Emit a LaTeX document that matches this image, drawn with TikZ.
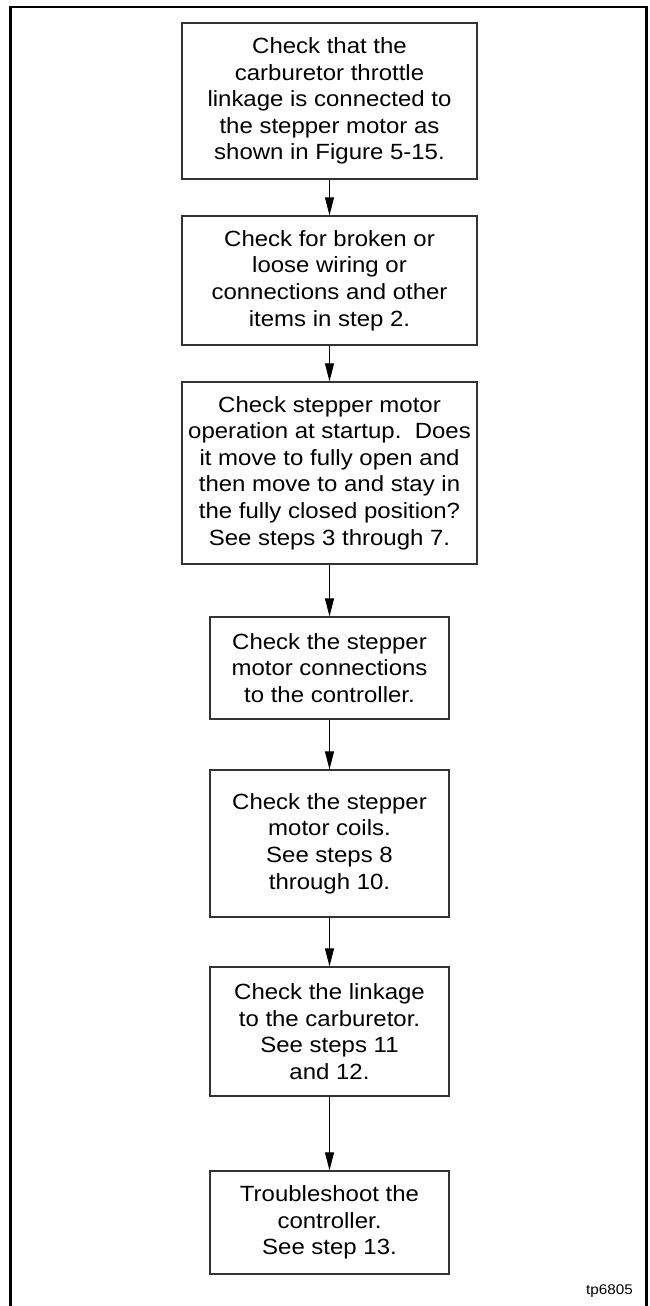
\documentclass[tikz,border=0pt]{standalone}
\usepackage{fontspec}
\setmainfont{Liberation Sans}[FakeStretch=1.09]
\usetikzlibrary{arrows.meta}
\begin{document}
\begin{tikzpicture}[x=1pt,y=-1pt,
  stepbox/.style={draw=black!80, line width=1.3pt, align=center, inner sep=0pt,
    font=\fontsize{22}{26.6}\selectfont},
  wide/.style={minimum width=295pt},
  narrow/.style={minimum width=239pt},
  flow/.style={-{Triangle[length=18pt,width=9pt]}, line width=1pt},
  frame/.style={line width=2.5pt}]
\useasboundingbox (0,0) rectangle (650,1306);
\draw[frame] (10.5,1312) -- (10.5,7) -- (646.5,7) -- (646.5,1312);

\node[stepbox, wide, minimum height=156pt] (b1) at (329.5,101)
  {Check that the\\carburetor throttle\\linkage is connected to\\the stepper motor as\\shown in Figure 5-15.};
\node[stepbox, wide, minimum height=129pt] (b2) at (329.5,280.5)
  {Check for broken or\\loose wiring or\\connections and other\\items in step 2.};
\node[stepbox, wide, minimum height=182pt] (b3) at (329.5,473)
  {Check stepper motor\\operation at startup.\ \ Does\\it move to fully open and\\then move to and stay in\\the fully closed position?\\See steps 3 through 7.};
\node[stepbox, narrow, minimum height=102pt] (b4) at (329.5,668)
  {Check the stepper\\motor connections\\to the controller.};
\node[stepbox, narrow, minimum height=147pt] (b5) at (329.5,843.5)
  {Check the stepper\\motor coils.\\See steps 8\\through 10.};
\node[stepbox, narrow, minimum height=129pt] (b6) at (329.5,1031.5)
  {Check the linkage\\to the carburetor.\\See steps 11\\and 12.};
\node[stepbox, narrow, minimum height=103pt] (b7) at (329.5,1222.5)
  {Troubleshoot the\\controller.\\See step 13.};

\draw[flow] (b1) -- (b2);
\draw[flow] (b2) -- (b3);
\draw[flow] (b3) -- (b4);
\draw[flow] (b4) -- (b5);
\draw[flow] (b5) -- (b6);
\draw[flow] (b6) -- (b7);

\node[anchor=base east, inner sep=0pt, font=\fontsize{14}{16}\selectfont] (lbl) at (633,1294) {tp6805};
\end{tikzpicture}
\end{document}
